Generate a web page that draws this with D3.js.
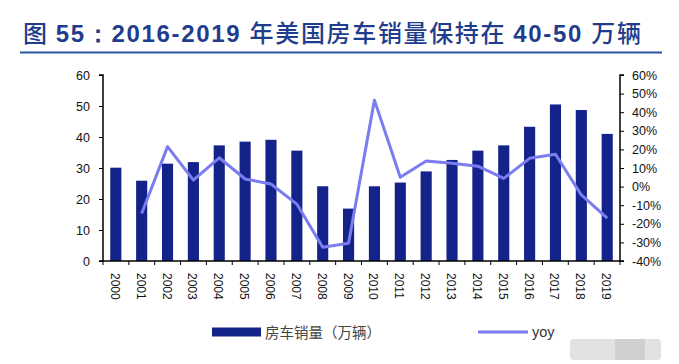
<!DOCTYPE html>
<html>
<head>
<meta charset="utf-8">
<script src="https://cdn.jsdelivr.net/npm/d3@7"></script>
<style>
  body { margin: 0; background: #fff; }
  text { font-family: Arial, "Liberation Sans", sans-serif; }
</style>
</head>
<body>
<div id="chart"></div>
<script>
// --------------- Data ---------------
const years = ["2000","2001","2002","2003","2004","2005","2006","2007","2008","2009",
  "2010","2011","2012","2013","2014","2015","2016","2017","2018","2019"];
const sales = [30.1, 25.9, 31.4, 31.9, 37.3, 38.5, 39.1, 35.6, 24.1, 16.9,
  24.1, 25.3, 28.9, 32.6, 35.6, 37.3, 43.3, 50.5, 48.7, 41.0];
const yoy = [null, -14.5, 21.5, 3.5, 15.5, 4.1, 1.4, -9.4, -32.6, -30.5,
  46.5, 5.0, 13.8, 12.5, 11.0, 4.4, 15.2, 17.4, -4.5, -17.0];
const leftTicks = [0, 10, 20, 30, 40, 50, 60];
const rightTicks = [-40, -30, -20, -10, 0, 10, 20, 30, 40, 50, 60];

// --------------- Constants ---------------
const WIDTH = 679;
const HEIGHT = 364;
const MARGINS = { top: 75, right: 59, bottom: 103, left: 103 };
const BAR_COLOR = "#13238a";
const LINE_COLOR = "#7b7cf0";
const TITLE_COLOR = "#1f3d8c";

const svg = d3.select("#chart").append("svg")
  .attr("width", WIDTH).attr("height", HEIGHT);

// Title (CJK parts in regular weight, latin parts bold)
const titleParts = [
  ["图 ", false], ["55：2016-2019 ", true], ["年美国房车销量保持在 ", false],
  ["40-50 ", true], ["万辆", false]
];
const title = svg.append("text")
  .attr("x", 23).attr("y", 42)
  .attr("fill", TITLE_COLOR)
  .attr("font-size", "24px")
  .attr("textLength", 618).attr("lengthAdjust", "spacing");
title.selectAll("tspan")
  .data(titleParts)
  .join("tspan")
  .attr("font-weight", ([, b]) => (b ? "bold" : "500"))
  .style("font-family", ([, b]) =>
    b ? "Arial, 'Liberation Sans', sans-serif" : "'Noto Sans CJK SC', sans-serif")
  .text(([t]) => t);
svg.append("line")
  .attr("x1", 20).attr("x2", 662).attr("y1", 52.5).attr("y2", 52.5)
  .attr("stroke", "#2a57a8").attr("stroke-width", 2);

const X_SCALE = d3.scaleBand()
  .domain(years)
  .range([MARGINS.left, WIDTH - MARGINS.right])
  .paddingInner(0.57).paddingOuter(0.28);
const Y_LEFT = d3.scaleLinear().domain([0, 60])
  .range([HEIGHT - MARGINS.bottom, MARGINS.top]);
const Y_RIGHT = d3.scaleLinear().domain([-40, 60])
  .range([HEIGHT - MARGINS.bottom, MARGINS.top]);

// Bars
svg.append("g").selectAll("rect")
  .data(years.map((y, i) => [y, sales[i]]))
  .join("rect")
  .attr("x", ([y]) => X_SCALE(y))
  .attr("y", ([, v]) => Y_LEFT(v))
  .attr("width", X_SCALE.bandwidth())
  .attr("height", ([, v]) => Y_LEFT(0) - Y_LEFT(v))
  .attr("fill", BAR_COLOR);

// Line
const line = d3.line()
  .defined((d) => d[1] !== null)
  .x(([y]) => X_SCALE(y) + X_SCALE.bandwidth() / 2)
  .y(([, v]) => Y_RIGHT(v));
svg.append("path")
  .datum(years.map((y, i) => [y, yoy[i]]))
  .attr("d", line)
  .attr("fill", "none")
  .attr("stroke", LINE_COLOR)
  .attr("stroke-width", 3)
  .attr("stroke-linejoin", "round");

// Axes
const leftAxis = svg.append("g")
  .attr("transform", `translate(${MARGINS.left},0)`)
  .call(d3.axisLeft(Y_LEFT).tickValues(leftTicks).tickSize(4).tickPadding(9));
const rightAxis = svg.append("g")
  .attr("transform", `translate(${WIDTH - MARGINS.right},0)`)
  .call(d3.axisRight(Y_RIGHT).tickValues(rightTicks).tickSize(4).tickPadding(8)
    .tickFormat((d) => d + "%"));

// Bottom axis: ticks between categories
const plotW = WIDTH - MARGINS.right - MARGINS.left;
const bottom = svg.append("g").attr("transform", `translate(0,${Y_LEFT(0)})`);
bottom.append("line")
  .attr("x1", MARGINS.left).attr("x2", WIDTH - MARGINS.right)
  .attr("stroke", "#000").attr("stroke-width", 1.5);
bottom.selectAll("line.tick")
  .data(d3.range(years.length + 1))
  .join("line")
  .attr("class", "tick")
  .attr("x1", (i) => MARGINS.left + i * plotW / years.length)
  .attr("x2", (i) => MARGINS.left + i * plotW / years.length)
  .attr("y1", 0).attr("y2", 4)
  .attr("stroke", "#000");
bottom.selectAll("text")
  .data(years)
  .join("text")
  .attr("transform", (y) =>
    `translate(${X_SCALE(y) + X_SCALE.bandwidth() / 2 - 5},12) rotate(90)`)
  .attr("font-size", "12px")
  .attr("fill", "#111")
  .text((y) => y);

[leftAxis, rightAxis].forEach((ax) => {
  ax.select(".domain").attr("stroke-width", 1.5);
  ax.selectAll("text").attr("font-size", "12.5px").attr("fill", "#111")
    .style("font-family", "Arial, 'Liberation Sans', sans-serif");
});
rightAxis.selectAll(".domain").attr("d", `M4,${MARGINS.top}H0V${Y_RIGHT(-40)}H4`);
leftAxis.selectAll(".domain").attr("d", `M-4,${MARGINS.top}H0V${Y_LEFT(0)}H-4`);

// Legend
const legend = svg.append("g").attr("transform", "translate(0,332)");
legend.append("rect")
  .attr("x", 212).attr("y", -4.5).attr("width", 49).attr("height", 9)
  .attr("fill", BAR_COLOR);
legend.append("text")
  .attr("x", 265).attr("y", 5.5)
  .attr("font-size", "14.5px").attr("fill", "#444")
  .style("font-family", "'Noto Sans CJK SC', sans-serif")
  .text("房车销量（万辆）");
legend.append("line")
  .attr("x1", 478).attr("x2", 528).attr("y1", 0).attr("y2", 0)
  .attr("stroke", LINE_COLOR).attr("stroke-width", 3);
legend.append("text")
  .attr("x", 532).attr("y", 5)
  .attr("font-size", "14.5px").attr("fill", "#333")
  .text("yoy");

// Faint blurred watermark block
const wm = svg.append("g");
wm.append("rect")
  .attr("x", 570).attr("y", 339).attr("width", 91).attr("height", 21)
  .attr("rx", 4).attr("fill", "#e2e2e2");
wm.append("rect")
  .attr("x", 615).attr("y", 339).attr("width", 30).attr("height", 21)
  .attr("fill", "#cfcfcf");
</script>
</body>
</html>
